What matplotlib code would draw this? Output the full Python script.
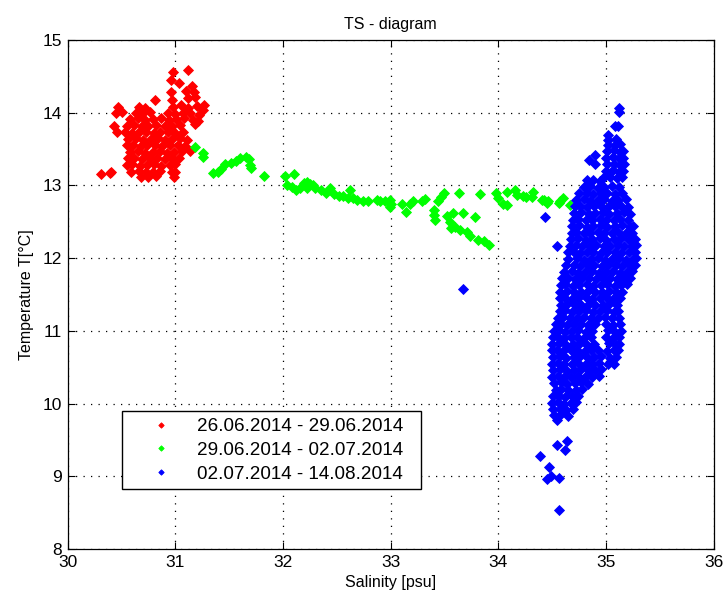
import matplotlib
matplotlib.use("Agg")
import matplotlib.pyplot as plt

plt.rcParams['font.family'] = ['Liberation Sans', 'DejaVu Sans']

title = "TS - diagram"
xlabel = "Salinity [psu]"
ylabel = "Temperature T[°C]"
labels = ["26.06.2014 - 29.06.2014", "29.06.2014 - 02.07.2014", "02.07.2014 - 14.08.2014"]
colors = ["#ff0000", "#00ff00", "#0000ff"]
xticks = [30, 31, 32, 33, 34, 35, 36]
yticks = [8, 9, 10, 11, 12, 13, 14, 15]

# (salinity, temperature) pairs
red_points = [
    (31.12, 14.59), (30.98, 14.56), (30.96, 14.45), (31.03, 14.41), (31.15, 14.36), (31.17, 14.28),
    (31.18, 14.22), (30.96, 14.28), (30.97, 14.18), (30.81, 14.17), (31.27, 14.10), (31.26, 14.03),
    (31.10, 14.30), (31.12, 14.20),
    (30.47, 14.08), (30.66, 14.08), (30.72, 14.06), (30.98, 14.08), (31.05, 14.10), (31.12, 14.07), (31.20, 14.09),
    (30.45, 14.00), (30.50, 14.01), (30.63, 13.99), (30.70, 14.00), (30.76, 14.01), (30.93, 14.00), (31.00, 13.98),
    (31.07, 14.00), (31.14, 13.99), (31.22, 13.97),
    (30.58, 13.91), (30.65, 13.92), (30.72, 13.90), (30.79, 13.91), (30.87, 13.92), (30.94, 13.90), (31.01, 13.91),
    (31.08, 13.92), (31.16, 13.90), (31.21, 13.88),
    (30.43, 13.82), (30.55, 13.82), (30.62, 13.83), (30.69, 13.81), (30.75, 13.82), (30.82, 13.83), (30.90, 13.81),
    (30.97, 13.82), (31.04, 13.83), (31.18, 13.84),
    (30.46, 13.73), (30.53, 13.74), (30.60, 13.72), (30.66, 13.73), (30.73, 13.74), (30.80, 13.72), (30.86, 13.73),
    (30.93, 13.74), (31.00, 13.72), (31.07, 13.73),
    (30.56, 13.64), (30.63, 13.65), (30.70, 13.63), (30.77, 13.64), (30.84, 13.65), (30.90, 13.63), (30.97, 13.64),
    (31.04, 13.65), (31.11, 13.62),
    (30.55, 13.55), (30.61, 13.56), (30.68, 13.54), (30.74, 13.55), (30.81, 13.56), (30.88, 13.54), (30.95, 13.55),
    (31.02, 13.56), (31.09, 13.54), (31.14, 13.47),
    (30.58, 13.46), (30.65, 13.47), (30.72, 13.45), (30.79, 13.46), (30.86, 13.47), (30.92, 13.45), (30.99, 13.46),
    (31.06, 13.47),
    (30.56, 13.37), (30.62, 13.38), (30.69, 13.36), (30.76, 13.37), (30.83, 13.38), (30.90, 13.36), (30.97, 13.37),
    (31.03, 13.38),
    (30.55, 13.28), (30.60, 13.29), (30.67, 13.27), (30.74, 13.28), (30.80, 13.29), (30.87, 13.27), (30.95, 13.28),
    (31.00, 13.29),
    (30.59, 13.19), (30.66, 13.20), (30.73, 13.18), (30.79, 13.19), (30.86, 13.20), (30.97, 13.18), (31.00, 13.19),
    (30.68, 13.12), (30.75, 13.11), (30.82, 13.13), (30.99, 13.12),
    (30.31, 13.15), (30.39, 13.17), (30.40, 13.19),
]

green_points = [
    (31.18, 13.53), (31.26, 13.44), (31.26, 13.39), (31.35, 13.17), (31.40, 13.19), (31.42, 13.22),
    (31.46, 13.29), (31.52, 13.31), (31.56, 13.33), (31.60, 13.37), (31.66, 13.39), (31.68, 13.36),
    (31.69, 13.28), (31.70, 13.24), (31.82, 13.13),
    (32.02, 13.13), (32.10, 13.16), (32.04, 13.00), (32.08, 12.98), (32.12, 12.93), (32.16, 12.96),
    (32.19, 13.03), (32.22, 13.05), (32.25, 13.02), (32.28, 13.00), (32.22, 12.97), (32.30, 12.97),
    (32.35, 12.93), (32.40, 12.90), (32.44, 12.96), (32.47, 12.88), (32.52, 12.86), (32.56, 12.85),
    (32.60, 12.83), (32.62, 12.94), (32.65, 12.82), (32.69, 12.80),
    (32.74, 12.78), (32.79, 12.79), (32.87, 12.80), (32.90, 12.78), (32.95, 12.78), (32.99, 12.80),
    (33.00, 12.75), (32.99, 12.70),
    (33.10, 12.74), (33.14, 12.63), (33.18, 12.75), (33.21, 12.78), (33.29, 12.79), (33.32, 12.81),
    (33.40, 12.66), (33.40, 12.59), (33.41, 12.52), (33.44, 12.78), (33.47, 12.84), (33.49, 12.89),
    (33.63, 12.90), (33.52, 12.58), (33.58, 12.62), (33.55, 12.50), (33.60, 12.43), (33.64, 12.39),
    (33.56, 12.41), (33.67, 12.62), (33.78, 12.57), (33.71, 12.36), (33.74, 12.30), (33.81, 12.25),
    (33.87, 12.23), (33.91, 12.18), (33.83, 12.88),
    (33.98, 12.89), (34.00, 12.82), (34.04, 12.75), (34.08, 12.73), (34.08, 12.91), (34.15, 12.94),
    (34.17, 12.87), (34.23, 12.85), (34.26, 12.84), (34.32, 12.91), (34.31, 12.84),
    (34.40, 12.80), (34.45, 12.76), (34.56, 12.76), (34.42, 12.80), (34.46, 12.78), (34.57, 12.78),
    (34.60, 12.82), (34.66, 12.73),
]

blue_points = [
    # outliers and upper spike
    (33.67, 11.57), (34.43, 12.57), (34.54, 12.17), (34.84, 13.35), (34.90, 13.42), (34.90, 13.29),
    (35.12, 14.06), (35.12, 14.01), (35.08, 13.82), (35.11, 13.82), (35.02, 13.69), (35.02, 13.62),
    (35.09, 13.64),
    (35.02, 13.56), (35.08, 13.55), (35.13, 13.57),
    (35.01, 13.47), (35.07, 13.48), (35.13, 13.46), (35.16, 13.47),
    (35.00, 13.38), (35.06, 13.39), (35.12, 13.37), (35.16, 13.38),
    (35.01, 13.29), (35.07, 13.30), (35.13, 13.28), (35.17, 13.29),
    (35.00, 13.20), (35.06, 13.21), (35.12, 13.19), (35.16, 13.20),
    (34.98, 13.11), (35.04, 13.12), (35.10, 13.10), (35.15, 13.11),
    (34.82, 13.07), (34.88, 13.08), (34.94, 13.06),
    # main body
    (34.79, 12.98), (34.85, 12.99), (34.92, 12.97), (34.98, 12.98), (35.05, 12.99), (35.12, 12.98),
    (34.75, 12.89), (34.82, 12.90), (34.88, 12.88), (34.95, 12.89), (35.01, 12.90), (35.08, 12.88), (35.15, 12.89),
    (34.72, 12.80), (34.79, 12.81), (34.85, 12.79), (34.92, 12.80), (34.98, 12.81), (35.05, 12.79), (35.11, 12.80),
    (35.18, 12.81),
    (34.71, 12.71), (34.76, 12.72), (34.82, 12.70), (34.89, 12.71), (34.95, 12.72), (35.02, 12.70), (35.08, 12.71),
    (35.14, 12.72), (35.20, 12.70),
    (34.70, 12.62), (34.77, 12.63), (34.84, 12.61), (34.90, 12.62), (34.97, 12.63), (35.03, 12.61), (35.10, 12.62),
    (35.17, 12.63), (35.22, 12.61),
    (34.69, 12.53), (34.74, 12.54), (34.81, 12.52), (34.87, 12.53), (34.94, 12.54), (35.00, 12.52), (35.07, 12.53),
    (35.13, 12.54), (35.20, 12.52),
    (34.68, 12.44), (34.75, 12.45), (34.82, 12.43), (34.88, 12.44), (34.95, 12.45), (35.01, 12.43), (35.08, 12.44),
    (35.15, 12.45), (35.22, 12.43), (35.25, 12.44),
    (34.68, 12.35), (34.72, 12.36), (34.79, 12.34), (34.85, 12.35), (34.92, 12.36), (34.98, 12.34), (35.05, 12.35),
    (35.11, 12.36), (35.18, 12.34), (35.24, 12.35),
    (34.67, 12.26), (34.74, 12.27), (34.81, 12.25), (34.87, 12.26), (34.94, 12.27), (35.00, 12.25), (35.07, 12.26),
    (35.14, 12.27), (35.21, 12.25), (35.27, 12.26),
    (34.66, 12.17), (34.72, 12.18), (34.78, 12.16), (34.85, 12.17), (34.91, 12.18), (34.98, 12.16), (35.04, 12.17),
    (35.11, 12.18), (35.17, 12.16), (35.24, 12.17), (35.28, 12.18),
    (34.65, 12.08), (34.70, 12.09), (34.76, 12.07), (34.82, 12.08), (34.88, 12.09), (34.95, 12.07), (35.01, 12.08),
    (35.08, 12.09), (35.14, 12.07), (35.21, 12.08), (35.27, 12.09),
    (34.65, 11.99), (34.73, 12.00), (34.79, 11.98), (34.86, 11.99), (34.92, 12.00), (34.99, 11.98), (35.05, 11.99),
    (35.12, 12.00), (35.18, 11.98), (35.25, 11.99), (35.28, 12.00),
    (34.63, 11.90), (34.70, 11.91), (34.76, 11.89), (34.83, 11.90), (34.89, 11.91), (34.96, 11.89), (35.02, 11.90),
    (35.09, 11.91), (35.15, 11.89), (35.22, 11.90), (35.27, 11.91),
    (34.61, 11.81), (34.68, 11.82), (34.74, 11.80), (34.80, 11.81), (34.87, 11.82), (34.93, 11.80), (35.00, 11.81),
    (35.06, 11.82), (35.13, 11.80), (35.19, 11.81), (35.24, 11.82),
    (34.59, 11.72), (34.65, 11.73), (34.71, 11.71), (34.78, 11.72), (34.84, 11.73), (34.91, 11.71), (34.97, 11.72),
    (35.04, 11.73), (35.10, 11.71), (35.17, 11.72), (35.22, 11.73),
    (34.58, 11.63), (34.62, 11.64), (34.69, 11.62), (34.75, 11.63), (34.82, 11.64), (34.88, 11.62), (34.95, 11.63),
    (35.01, 11.64), (35.08, 11.62), (35.14, 11.63), (35.19, 11.64),
    (34.57, 11.54), (34.64, 11.55), (34.70, 11.53), (34.77, 11.54), (34.83, 11.55), (34.90, 11.53), (34.96, 11.54),
    (35.03, 11.55), (35.09, 11.53), (35.15, 11.54),
    (34.57, 11.45), (34.61, 11.46), (34.68, 11.44), (34.74, 11.45), (34.81, 11.46), (34.87, 11.44), (34.94, 11.45),
    (35.00, 11.46), (35.06, 11.44), (35.13, 11.45),
    (34.58, 11.36), (34.64, 11.37), (34.71, 11.35), (34.77, 11.36), (34.84, 11.37), (34.90, 11.35), (34.97, 11.36),
    (35.03, 11.37), (35.10, 11.35),
    (34.57, 11.27), (34.62, 11.28), (34.68, 11.26), (34.75, 11.27), (34.81, 11.28), (34.88, 11.26), (34.94, 11.27),
    (35.01, 11.28), (35.07, 11.26), (35.11, 11.27),
    (34.55, 11.18), (34.60, 11.19), (34.66, 11.17), (34.73, 11.18), (34.79, 11.19), (34.86, 11.17), (34.92, 11.18),
    (34.99, 11.19), (35.05, 11.17), (35.12, 11.18),
    (34.53, 11.09), (34.58, 11.10), (34.64, 11.08), (34.70, 11.09), (34.77, 11.10), (34.83, 11.08), (34.90, 11.09),
    (35.00, 11.10), (35.06, 11.08), (35.13, 11.09),
    (34.52, 11.00), (34.56, 11.01), (34.62, 10.99), (34.68, 11.00), (34.74, 11.01), (34.81, 10.99), (34.87, 11.00),
    (35.02, 11.01), (35.08, 10.99), (35.14, 11.00),
    (34.51, 10.91), (34.55, 10.92), (34.61, 10.90), (34.67, 10.91), (34.73, 10.92), (34.79, 10.90), (34.86, 10.91),
    (35.00, 10.92), (35.06, 10.90), (35.12, 10.91),
    (34.50, 10.82), (34.56, 10.83), (34.63, 10.81), (34.69, 10.82), (34.76, 10.83), (34.82, 10.81), (34.89, 10.82),
    (35.03, 10.83), (35.09, 10.81), (35.12, 10.82),
    (34.50, 10.73), (34.54, 10.74), (34.60, 10.72), (34.67, 10.73), (34.73, 10.74), (34.80, 10.72), (34.86, 10.73),
    (34.92, 10.74), (35.01, 10.72), (35.07, 10.73), (35.11, 10.74),
    (34.51, 10.64), (34.57, 10.65), (34.63, 10.63), (34.70, 10.64), (34.76, 10.65), (34.83, 10.63), (34.89, 10.64),
    (34.95, 10.65), (35.04, 10.63), (35.09, 10.64),
    (34.50, 10.55), (34.55, 10.56), (34.61, 10.54), (34.68, 10.55), (34.74, 10.56), (34.81, 10.54), (34.87, 10.55),
    (34.93, 10.56), (35.02, 10.54), (35.07, 10.55),
    (34.51, 10.46), (34.57, 10.47), (34.64, 10.45), (34.70, 10.46), (34.77, 10.47), (34.84, 10.45), (34.90, 10.46),
    (34.95, 10.47),
    (34.50, 10.37), (34.55, 10.38), (34.61, 10.36), (34.67, 10.37), (34.74, 10.38), (34.80, 10.36), (34.87, 10.37),
    (34.93, 10.38),
    (34.52, 10.28), (34.58, 10.29), (34.64, 10.27), (34.71, 10.28), (34.77, 10.29), (34.83, 10.27),
    (34.53, 10.19), (34.58, 10.20), (34.65, 10.18), (34.72, 10.19), (34.78, 10.20),
    (34.51, 10.10), (34.56, 10.11), (34.62, 10.09), (34.68, 10.10), (34.74, 10.11),
    (34.50, 10.01), (34.55, 10.02), (34.61, 10.00), (34.67, 10.01), (34.72, 10.02),
    (34.51, 9.92), (34.57, 9.93), (34.63, 9.91), (34.69, 9.92),
    (34.52, 9.84), (34.58, 9.85), (34.65, 9.83),
    (34.54, 9.77),
    # lower outliers
    (34.64, 9.48), (34.54, 9.43), (34.62, 9.36), (34.39, 9.28), (34.47, 9.13), (34.49, 9.00),
    (34.45, 8.96), (34.56, 8.98), (34.56, 8.53),
]

fig = plt.figure(figsize=(7.24, 6.04), dpi=100)
ax = fig.add_axes([0.0935, 0.091, 0.8925, 0.843])

series = [red_points, green_points, blue_points]
for pts, col, lab in zip(series, colors, labels):
    s_vals, t_vals = zip(*pts)
    ax.plot(s_vals, t_vals, linestyle='none', marker='D', markersize=5.0,
            markerfacecolor=col, markeredgecolor=col, markeredgewidth=0.6, label=lab)

ax.set_xlim(30, 36)
ax.set_ylim(8, 15)
ax.set_xticks(xticks)
ax.set_yticks(yticks)
ax.tick_params(direction='in', length=5, width=0.8, top=True, right=True,
               labelsize=12.5, colors='black', pad=4)
ax.grid(True, linestyle=(0, (1, 5)), color='black', linewidth=0.9)
for sp in ax.spines.values():
    sp.set_linewidth(0.9)

ax.set_title(title, fontsize=11.5, pad=8)
ax.set_xlabel(xlabel, fontsize=11.5, labelpad=4)
ax.set_ylabel(ylabel, fontsize=11.5, labelpad=6)

leg = ax.legend(loc='lower left', bbox_to_anchor=(0.0845, 0.117, 0.4625, 0.174), mode='expand',
                fontsize=13.6, frameon=True, fancybox=False, edgecolor='black', framealpha=1,
                handlelength=3.45, handletextpad=0.15, borderpad=0.35, labelspacing=0.35,
                borderaxespad=0, markerscale=0.55)
leg.get_frame().set_linewidth(1.0)

fig.savefig("out.png", dpi=100)
